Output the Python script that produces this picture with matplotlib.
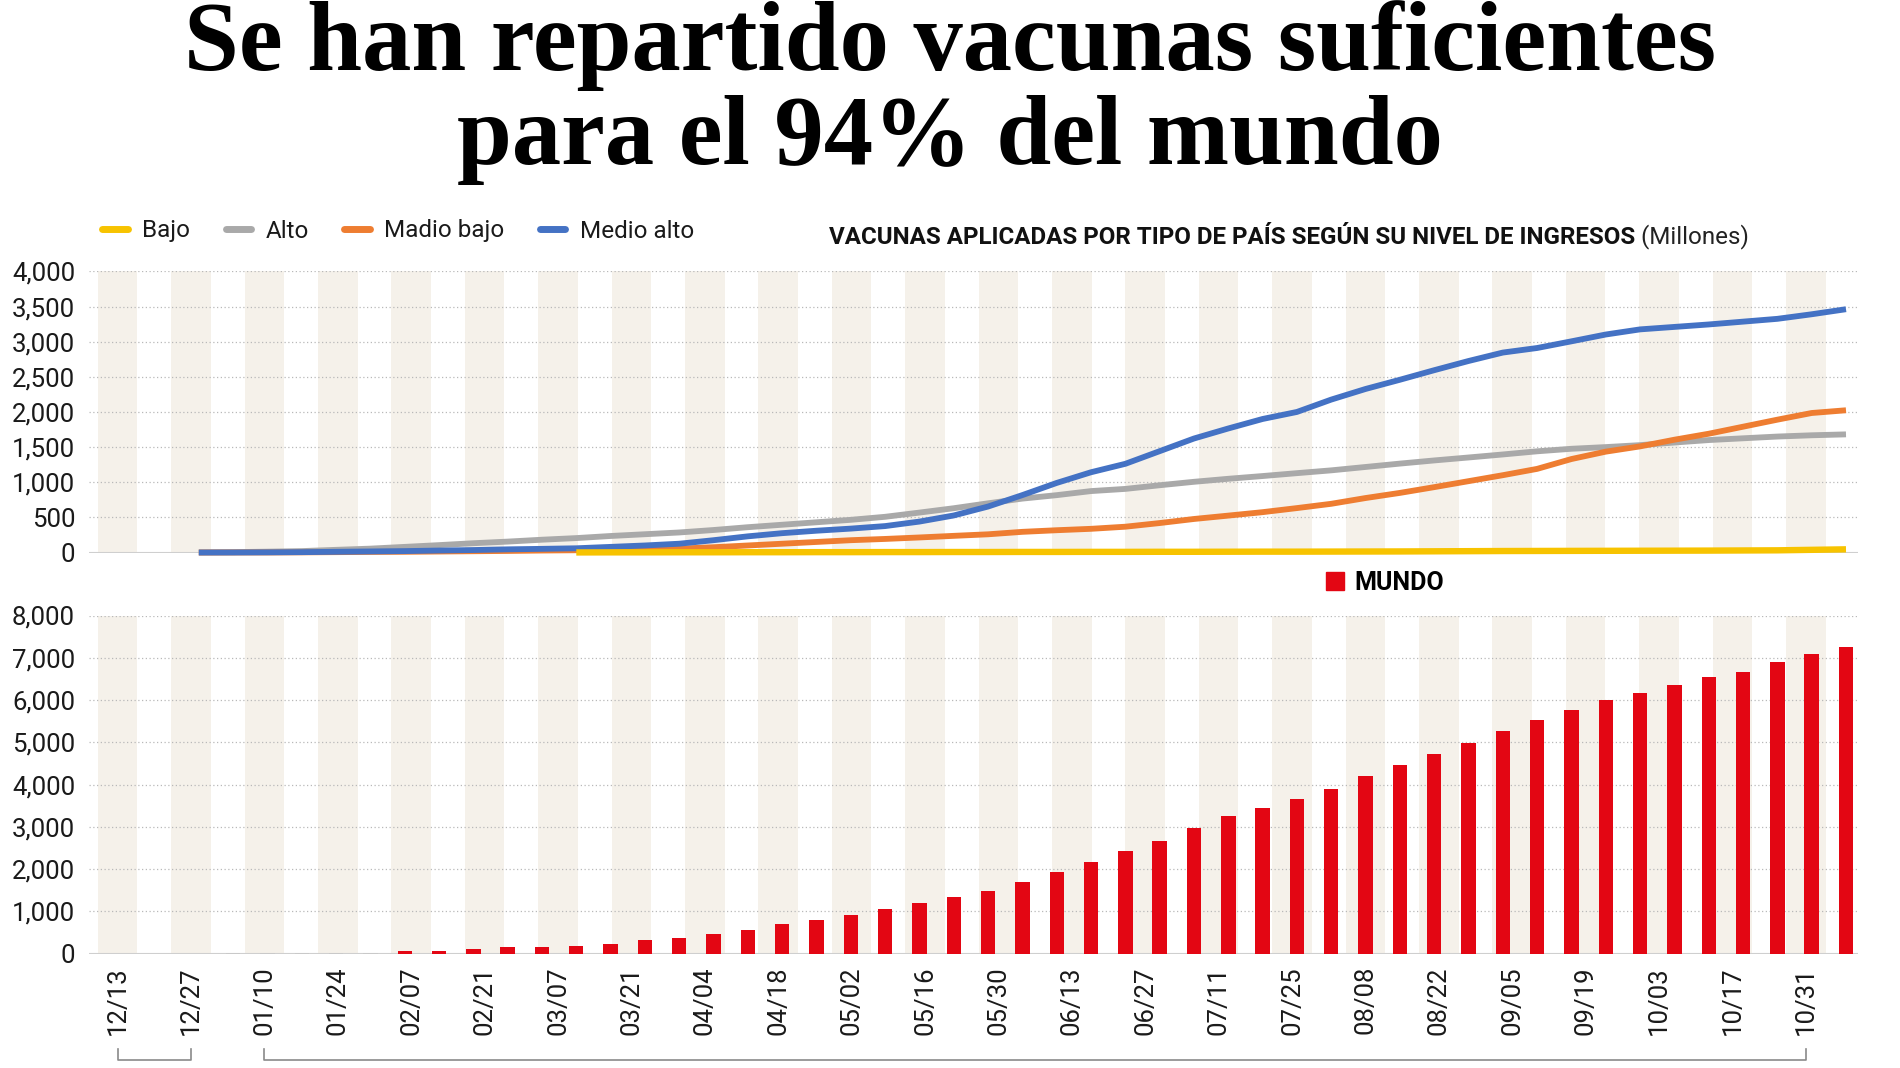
import numpy as np
import matplotlib
matplotlib.use("Agg")
import matplotlib.pyplot as plt
from matplotlib.lines import Line2D
from matplotlib.patches import Patch
from matplotlib.transforms import blended_transform_factory

plt.rcParams['font.family'] = ['Roboto', 'DejaVu Sans']

# fechas (semanas) del eje x
week_labels = ['12/13', '12/27', '01/10', '01/24', '02/07', '02/21', '03/07',
               '03/21', '04/04', '04/18', '05/02', '05/16', '05/30', '06/13',
               '06/27', '07/11', '07/25', '08/08', '08/22', '09/05', '09/19',
               '10/03', '10/17', '10/31']
n_weeks = 48

# vacunas aplicadas, millones (barras)
mundo = [8, 10, 12, 15, 20, 55, 50, 110, 150, 150, 190, 237, 323, 370,
         473, 560, 694, 797, 923, 1065, 1207, 1349, 1475, 1703, 1940, 2169,
         2429, 2666, 2981, 3257, 3446, 3667, 3896, 4203, 4472, 4716, 4992,
         5260, 5528, 5757, 5994, 6175, 6364, 6546, 6664, 6901, 7090, 7263]

# por nivel de ingresos (lineas), una muestra antes de la primera barra
alto = [0, 5, 12, 20, 38, 55, 80, 105, 132, 155, 182, 205, 235, 260, 285,
        320, 360, 395, 430, 465, 508, 568, 630, 700, 767, 816, 874, 905,
        957, 1006, 1049, 1088, 1129, 1169, 1217, 1265, 1310, 1352, 1395,
        1440, 1476, 1500, 1528, 1565, 1600, 1625, 1650, 1668, 1681]
madio_bajo = [0, 0, 0, 2, 5, 8, 10, 14, 18, 22, 28, 32, 38, 45, 55, 75,
              100, 125, 150, 175, 193, 214, 237, 259, 294, 317, 337, 367,
              419, 477, 525, 574, 632, 693, 775, 848, 930, 1015, 1100, 1190,
              1330, 1435, 1510, 1605, 1690, 1790, 1890, 1985, 2024]
medio_alto = [0, 0, 2, 5, 10, 15, 20, 28, 35, 45, 52, 60, 80, 100, 125,
              175, 230, 275, 310, 340, 376, 440, 527, 654, 817, 990, 1142,
              1262, 1442, 1622, 1765, 1900, 2000, 2176, 2327, 2458, 2594,
              2725, 2845, 2910, 3005, 3102, 3175, 3210, 3245, 3285, 3325,
              3390, 3462]
bajo_start = 10
bajo = [1, 2, 2, 3, 3, 4, 4, 5, 5, 6, 6, 7, 7, 8, 8, 9, 9, 10, 10, 11,
        12, 12, 13, 14, 15, 17, 19, 21, 22, 23, 24, 25, 26, 27, 29, 31, 38, 45]

c_bajo, c_alto, c_mbajo, c_malto = '#f7c300', '#a9a9a9', '#ee7d31', '#4472c4'
c_red = '#e30613'
c_stripe = '#f5f1ea'
c_grid = '#b9b9b9'

W, H = 1900, 1068
fig = plt.figure(figsize=(W / 100, H / 100), dpi=100)


def fx(px):
    return px / W


def fy(py):
    return 1 - py / H


week_lim = (-0.78, 47.42)
bar_lim = (-4.2, 47.35)


def setup(ax, top, step, label_x):
    ax.set_xlim(*week_lim)
    ax.set_ylim(0, top)
    for k in range(0, n_weeks, 2):
        ax.axvspan(k - 0.54, k + 0.54, color=c_stripe, lw=0, zorder=0)
    for v in np.arange(step, top + 1, step):
        ax.axhline(v, color=c_grid, lw=0.9, ls=(0, (1, 2)), zorder=1)
    ax.axhline(0, color='#cfcfcf', lw=1.5, zorder=1)
    for s in ax.spines.values():
        s.set_visible(False)
    ax.set_yticks(np.arange(0, top + 1, step))
    ax.set_yticklabels([f'{int(v):,}' for v in np.arange(0, top + 1, step)])
    ax.tick_params(axis='y', length=0, pad=10, labelsize=18.5,
                   labelcolor='#1a1a1a')
    if label_x:
        ax.set_xticks(range(0, n_weeks, 2))
        ax.set_xticklabels(week_labels, rotation=90, fontsize=18.5,
                           color='#1a1a1a')
        ax.tick_params(axis='x', length=0, pad=9)
    else:
        ax.set_xticks([])
    tw = ax.twiny()
    tw.set_xlim(*bar_lim)
    tw.set_xticks([])
    for s in tw.spines.values():
        s.set_visible(False)
    return tw


# grafico superior: lineas
ax1 = fig.add_axes([fx(89), fy(552.5), fx(1858 - 89), (552.5 - 271.4) / H])
tw1 = setup(ax1, 4000, 500, False)
xl = np.arange(-1, len(alto) - 1)
tw1.plot(xl, alto, color=c_alto, lw=4.2, solid_capstyle='butt', clip_on=False, zorder=3)
tw1.plot(xl, madio_bajo, color=c_mbajo, lw=4.2, solid_capstyle='butt', clip_on=False, zorder=4)
tw1.plot(xl, medio_alto, color=c_malto, lw=4.2, solid_capstyle='butt', clip_on=False, zorder=5)
tw1.plot(np.arange(bajo_start, bajo_start + len(bajo)), bajo, color=c_bajo,
         lw=4.6, solid_capstyle='butt', clip_on=False, zorder=6)
tw1.set_ylim(0, 4000)

# grafico inferior: barras
ax2 = fig.add_axes([fx(89), fy(953.6), fx(1858 - 89), (953.6 - 615.5) / H])
tw2 = setup(ax2, 8000, 1000, True)
bar_colors = [c_red if v >= 40 else '#c9c9c9' for v in mundo]
tw2.bar(np.arange(len(mundo)), mundo, width=0.42, color=bar_colors, zorder=3)
tw2.set_ylim(0, 8000)

# corchetes bajo las fechas
tr = blended_transform_factory(ax2.transData, fig.transFigure)
for a, b in [(0, 2), (4, 46)]:
    ax2.plot([a, a, b, b], [fy(1049), fy(1060), fy(1060), fy(1049)],
             color='#8a8a8a', lw=1.2, transform=tr, clip_on=False)

# leyendas
handles = [Line2D([], [], color=c, lw=5, solid_capstyle='round')
           for c in (c_bajo, c_alto, c_mbajo, c_malto)]
fig.legend(handles, ['Bajo', 'Alto', 'Madio bajo', 'Medio alto'],
           loc='center left', bbox_to_anchor=(fx(90), fy(231)), ncol=4,
           frameon=False, fontsize=17.5, handlelength=1.05, handletextpad=0.6,
           columnspacing=1.45, labelcolor='#1a1a1a', borderpad=0)
fig.legend([Patch(color=c_red)], ['MUNDO'], loc='center left',
           bbox_to_anchor=(fx(1313), fy(583)), frameon=False,
           handlelength=0.75, handleheight=0.75, handletextpad=0.4,
           borderpad=0, prop={'weight': 'bold', 'size': 18})

# titulos
t = fig.text(fx(829), fy(237),
             'VACUNAS APLICADAS POR TIPO DE PAÍS SEGÚN SU NIVEL DE INGRESOS',
             fontsize=17.4, fontweight='bold', va='center', ha='left',
             color='#111111')
ax1.annotate(' (Millones)', xy=(1, 0.5), xycoords=t, va='center', ha='left',
             fontsize=17.4, color='#222222', annotation_clip=False)

fig.text(0.5, fy(70), 'Se han repartido vacunas suficientes', ha='center',
         va='baseline', fontsize=71, fontweight='bold',
         family='Liberation Serif', color='black')
fig.text(0.5, fy(164), 'para el 94% del mundo', ha='center', va='baseline',
         fontsize=71, fontweight='bold', family='Liberation Serif',
         color='black')

fig.savefig('out.png', dpi=100, facecolor='white')
